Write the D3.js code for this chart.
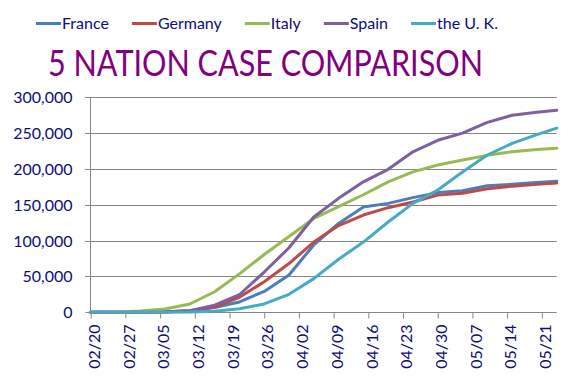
<!DOCTYPE html>
<html><head><meta charset="utf-8">
<script src="https://cdn.jsdelivr.net/npm/d3@7"></script>
<style>html,body{margin:0;padding:0;background:#fff;}svg{display:block;font-family:Lato,"Open Sans",sans-serif;}</style>
</head><body>
<svg id="chart" width="580" height="389"></svg>
<script>
const dates = ["02/20","02/25","03/01","03/06","03/11","03/16","03/21","03/26","03/31","04/05","04/10","04/15","04/20","04/25","04/30","05/05","05/10","05/15","05/20","05/24"];
const france  = [12,14,130,653,2284,6633,14459,29155,52128,94000,124000,147000,152000,160000,167000,169500,176500,178600,181000,183000];
const germany = [16,18,130,670,1908,7272,21000,42700,68000,98000,121000,135700,146000,154000,163500,166000,172500,176000,178500,180500];
const italy   = [3,322,1694,4636,11600,28700,53578,80589,105792,131000,147577,164000,182000,196000,205500,212500,219000,224000,227000,229000];
const spain   = [2,6,84,365,2277,9942,24500,56188,90000,133000,159000,182000,199500,224000,240000,250000,265000,275000,279000,282000];
const uk      = [9,13,36,164,459,1543,5018,11658,25150,47000,74000,98000,126000,152000,170600,195700,219500,235800,248000,257000];
const seriesNames = ["France","Germany","Italy","Spain","the U. K."];
const seriesColors = ["#4A7EBB","#BE4B48","#98B954","#7D60A0","#46AAC5"];
const yTicks = [0,50000,100000,150000,200000,250000,300000];
const xTickLabels = ["02/20","02/27","03/05","03/12","03/19","03/26","04/02","04/09","04/16","04/23","04/30","05/07","05/14","05/21"];
const titleText = "5 NATION CASE COMPARISON";

const parse = s => new Date(Date.UTC(2020, +s.slice(0,2)-1, +s.slice(3,5)));
const seriesValues = [france, germany, italy, spain, uk];
const svg = d3.select("#chart");
const navy = "#0d0d78";

const x = d3.scaleUtc().domain([parse("02/20"), parse("05/24")]).range([90.7, 556.7]);
const y = d3.scaleLinear().domain([0, 300000]).range([312.3, 97.3]);

// gridlines
svg.append("g").selectAll("line").data(yTicks.slice(1)).join("line")
  .attr("x1", 85).attr("x2", 556.7)
  .attr("y1", d => Math.round(y(d)) + 0.5).attr("y2", d => Math.round(y(d)) + 0.5)
  .attr("stroke", "#868686").attr("stroke-width", 1);

// y axis
const yAxis = svg.append("g").attr("transform", "translate(90.5,0)")
  .call(d3.axisLeft(y).tickValues(yTicks).tickSize(5).tickPadding(13).tickFormat(d3.format(",")));
yAxis.select(".domain").attr("stroke", "#868686").attr("d", `M0,${y(300000)}V${y(0)}`);
yAxis.selectAll(".tick line").attr("stroke", "#868686");
yAxis.selectAll(".tick").attr("transform", d => `translate(0,${Math.round(y(d)) + 0.5})`);
yAxis.selectAll("text").attr("fill", navy).style("font-size", "16px").style("font-family", "Lato").attr("dy", "0.36em");

// x axis
const xAxis = svg.append("g").attr("transform", `translate(0,${Math.round(y(0)) + 0.5})`)
  .call(d3.axisBottom(x).tickValues(xTickLabels.map(parse)).tickSize(6).tickFormat(d3.utcFormat("%m/%d")));
xAxis.select(".domain").attr("stroke", "#868686").attr("d", `M${x.range()[0]-0.2},0H${x.range()[1]}`);
xAxis.selectAll(".tick line").attr("stroke", "#868686");
xAxis.selectAll("text")
  .attr("fill", navy).style("font-size", "16px").style("font-family", "Lato")
  .attr("text-anchor", "end").attr("transform", "translate(0,13) rotate(-90)")
  .attr("x", 0).attr("y", 0).attr("dy", "0.36em").attr("dx", 0)
  .attr("transform", "translate(3,12) rotate(-90)");

// lines
const line = d3.line().x((d, i) => x(parse(dates[i]))).y(d => y(d));
svg.append("g").selectAll("path").data(seriesValues).join("path")
  .attr("d", d => line(d)).attr("fill", "none")
  .attr("stroke", (d, i) => seriesColors[i]).attr("stroke-width", 3)
  .attr("stroke-linejoin", "round").attr("stroke-linecap", "round");

// legend
const lg = svg.append("g");
let lx = 36;
seriesNames.forEach((name, i) => {
  lg.append("line").attr("x1", lx).attr("x2", lx + 25).attr("y1", 23.5).attr("y2", 23.5)
    .attr("stroke", seriesColors[i]).attr("stroke-width", 3);
  const t = lg.append("text").attr("x", lx + 26).attr("y", 29).text(name)
    .attr("fill", navy).style("font-size", "16px").style("font-family", "Lato");
  lx += 26 + t.node().getComputedTextLength() + 23;
});

// title
svg.append("text").attr("x", 265.5).attr("y", 76).attr("text-anchor", "middle")
  .attr("fill", "#800080").style("font-size", "36px").style("font-family", "Lato")
  .attr("textLength", 435).attr("lengthAdjust", "spacingAndGlyphs")
  .text(titleText);
</script>
</body></html>
